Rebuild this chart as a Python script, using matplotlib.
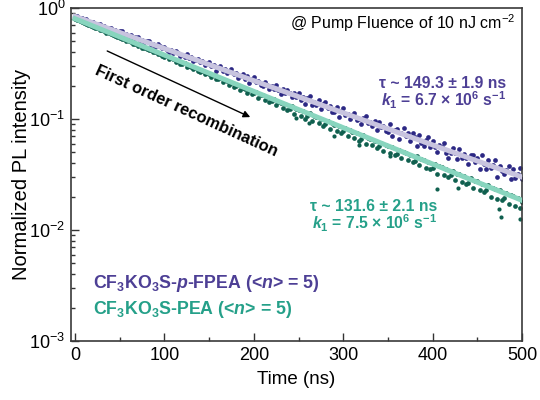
import numpy as np
import matplotlib
matplotlib.use("Agg")
import matplotlib.pyplot as plt
from matplotlib.ticker import LogLocator, FixedLocator, NullFormatter

plt.rcParams['font.family'] = ['Liberation Sans', 'DejaVu Sans']
plt.rcParams['mathtext.fontset'] = 'custom'
plt.rcParams['mathtext.rm'] = 'Liberation Sans'
plt.rcParams['mathtext.it'] = 'Liberation Sans:italic:bold'
plt.rcParams['mathtext.bf'] = 'Liberation Sans:bold'
plt.rcParams['mathtext.default'] = 'regular'

# --- data ---
time_ns = np.arange(0, 502.5, 2.5)

fpea_pl = [
    0.845, 0.839, 0.815, 0.807, 0.786, 0.790, 0.765, 0.750,
    0.749, 0.722, 0.720, 0.715, 0.692, 0.688, 0.660, 0.662,
    0.656, 0.634, 0.630, 0.606, 0.616, 0.621, 0.574, 0.579,
    0.563, 0.573, 0.528, 0.549, 0.550, 0.514, 0.517, 0.490,
    0.502, 0.509, 0.468, 0.474, 0.446, 0.469, 0.455, 0.436,
    0.449, 0.421, 0.398, 0.417, 0.395, 0.408, 0.391, 0.370,
    0.381, 0.362, 0.383, 0.356, 0.363, 0.332, 0.343, 0.348,
    0.325, 0.332, 0.309, 0.317, 0.326, 0.299, 0.306, 0.273,
    0.292, 0.302, 0.269, 0.283, 0.257, 0.271, 0.283, 0.254,
    0.262, 0.234, 0.246, 0.253, 0.231, 0.243, 0.212, 0.228,
    0.237, 0.216, 0.220, 0.201, 0.200, 0.215, 0.202, 0.185,
    0.199, 0.187, 0.201, 0.183, 0.169, 0.185, 0.172, 0.182,
    0.171, 0.159, 0.171, 0.158, 0.172, 0.149, 0.157, 0.136,
    0.156, 0.161, 0.135, 0.142, 0.135, 0.147, 0.123, 0.137,
    0.142, 0.126, 0.131, 0.115, 0.115, 0.128, 0.105, 0.118,
    0.126, 0.109, 0.112, 0.0997, 0.109, 0.114, 0.0980, 0.0996,
    0.0905, 0.102, 0.106, 0.0914, 0.0945, 0.0859, 0.0965, 0.0794,
    0.0939, 0.0840, 0.0873, 0.0784, 0.0771, 0.0896, 0.0710, 0.0803,
    0.0818, 0.0655, 0.0745, 0.0824, 0.0701, 0.0746, 0.0629, 0.0746,
    0.0686, 0.0568, 0.0716, 0.0612, 0.0574, 0.0643, 0.0692, 0.0558,
    0.0637, 0.0559, 0.0504, 0.0586, 0.0557, 0.0606, 0.0491, 0.0445,
    0.0489, 0.0545, 0.0499, 0.0439, 0.0535, 0.0446, 0.0480, 0.0448,
    0.0392, 0.0469, 0.0476, 0.0407, 0.0442, 0.0358, 0.0472, 0.0394,
    0.0358, 0.0428, 0.0362, 0.0385, 0.0424, 0.0301, 0.0378, 0.0337,
    0.0320, 0.0344, 0.0376, 0.0287, 0.0353, 0.0292, 0.0320, 0.0359,
    0.0287,
]

pea_pl = [
    0.795, 0.776, 0.768, 0.745, 0.735, 0.725, 0.700, 0.694,
    0.680, 0.661, 0.660, 0.637, 0.628, 0.621, 0.599, 0.598,
    0.580, 0.576, 0.556, 0.553, 0.541, 0.524, 0.522, 0.500,
    0.500, 0.493, 0.470, 0.478, 0.459, 0.462, 0.440, 0.436,
    0.429, 0.417, 0.421, 0.398, 0.401, 0.383, 0.389, 0.372,
    0.365, 0.367, 0.344, 0.352, 0.345, 0.326, 0.333, 0.316,
    0.311, 0.317, 0.295, 0.302, 0.294, 0.280, 0.288, 0.268,
    0.266, 0.273, 0.252, 0.260, 0.255, 0.237, 0.250, 0.230,
    0.231, 0.236, 0.214, 0.225, 0.220, 0.203, 0.213, 0.196,
    0.197, 0.204, 0.184, 0.192, 0.188, 0.172, 0.183, 0.168,
    0.170, 0.175, 0.155, 0.166, 0.163, 0.148, 0.159, 0.142,
    0.144, 0.150, 0.133, 0.143, 0.140, 0.125, 0.136, 0.121,
    0.124, 0.130, 0.112, 0.122, 0.120, 0.106, 0.118, 0.101,
    0.106, 0.113, 0.0950, 0.106, 0.104, 0.0915, 0.0990, 0.0860,
    0.0905, 0.0960, 0.0810, 0.0912, 0.0890, 0.0780, 0.0870, 0.0752,
    0.0772, 0.0830, 0.0698, 0.0790, 0.0770, 0.0680, 0.0742, 0.0640,
    0.0660, 0.0712, 0.0598, 0.0675, 0.0665, 0.0578, 0.0640, 0.0552,
    0.0568, 0.0612, 0.0520, 0.0585, 0.0575, 0.0495, 0.0555, 0.0470,
    0.0488, 0.0530, 0.0445, 0.0505, 0.0492, 0.0425, 0.0478, 0.0410,
    0.0420, 0.0460, 0.0382, 0.0436, 0.0428, 0.0362, 0.0410, 0.0352,
    0.0362, 0.0395, 0.0322, 0.0375, 0.0368, 0.0310, 0.0352, 0.0298,
    0.0310, 0.0340, 0.0280, 0.0322, 0.0318, 0.0268, 0.0305, 0.0258,
    0.0265, 0.0292, 0.0240, 0.0278, 0.0275, 0.0228, 0.0262, 0.0218,
    0.0228, 0.0252, 0.0200, 0.0240, 0.0236, 0.0192, 0.0228, 0.0185,
    0.0196, 0.0216, 0.0172, 0.0205, 0.0202, 0.0165, 0.0195, 0.0158,
    0.0180,
]

# scattered low points of the PEA trace
pea_extra_t = [247, 262, 290, 318, 352, 405, 428, 474, 477, 498]
pea_extra_pl = [0.102, 0.092, 0.070, 0.058, 0.046, 0.0234, 0.0240, 0.0155, 0.0132, 0.0126]

# single-exponential fits (end points)
fit_t = [0, 500]
fpea_fit = [0.84, 0.030]
pea_fit = [0.80, 0.0185]

# --- colours ---
FPEA_DOT = '#2c2884'
PEA_DOT = '#10604f'
FPEA_FIT = '#c8c4df'
PEA_FIT = '#88d5be'
FPEA_TXT = '#4d3f95'
PEA_TXT = '#25a089'

fig = plt.figure(figsize=(5.4, 4.0), dpi=100)
ax = fig.add_axes([0.1315, 0.1475, 0.8352, 0.8325])

ax.plot(time_ns, fpea_pl, 'o', ms=3.4, mew=0, color=FPEA_DOT, zorder=2)
ax.plot(time_ns, pea_pl, 'o', ms=3.4, mew=0, color=PEA_DOT, zorder=2)
ax.plot(pea_extra_t, pea_extra_pl, 'o', ms=3.0, mew=0, color=PEA_DOT, zorder=2)
ax.plot(fit_t, fpea_fit, '-', lw=3.6, color=FPEA_FIT, zorder=3)
ax.plot(fit_t, pea_fit, '-', lw=3.6, color=PEA_FIT, zorder=3)

ax.set_yscale('log')
ax.set_ylim(1e-3, 1)
ax.set_xlim(-4.5, 500)

ax.xaxis.set_major_locator(FixedLocator([0, 100, 200, 300, 400, 500]))
ax.xaxis.set_minor_locator(FixedLocator([50, 150, 250, 350, 450]))
ax.yaxis.set_major_locator(LogLocator(base=10, numticks=10))
ax.yaxis.set_minor_locator(LogLocator(base=10, subs=np.arange(2, 10), numticks=10))
ax.yaxis.set_minor_formatter(NullFormatter())
ax.set_yticks([1e-3, 1e-2, 1e-1, 1e0])
ax.set_yticklabels(['10$^{-3}$', '10$^{-2}$', '10$^{-1}$', '10$^{0}$'])

ax.tick_params(which='both', direction='in', top=False, right=False,
               labelsize=13, color='#333333', width=1.0)
ax.tick_params(which='major', length=6, pad=4)
ax.tick_params(which='minor', length=3)
for s in ax.spines.values():
    s.set_linewidth(1.2)
    s.set_color('#3a3a3a')

ax.set_xlabel('Time (ns)', fontsize=13.5, labelpad=5)
ax.set_ylabel('Normalized PL intensity', fontsize=14.5, labelpad=-1)

ax.text(0.985, 0.955, '@ Pump Fluence of 10 nJ cm$^{-2}$', transform=ax.transAxes,
        ha='right', va='center', fontsize=11.5)

ax.text(0.965, 0.772, 'τ ~ 149.3 ± 1.9 ns', transform=ax.transAxes,
        ha='right', va='center', fontsize=11.3, fontweight='bold', color=FPEA_TXT)
ax.text(0.965, 0.722, '$\\mathit{k}_1$ = 6.7 × 10$^6$ s$^{-1}$', transform=ax.transAxes,
        ha='right', va='center', fontsize=11.3, fontweight='bold', color=FPEA_TXT)
ax.text(0.812, 0.403, 'τ ~ 131.6 ± 2.1 ns', transform=ax.transAxes,
        ha='right', va='center', fontsize=11.3, fontweight='bold', color=PEA_TXT)
ax.text(0.812, 0.353, '$\\mathit{k}_1$ = 7.5 × 10$^6$ s$^{-1}$', transform=ax.transAxes,
        ha='right', va='center', fontsize=11.3, fontweight='bold', color=PEA_TXT)

ax.text(0.048, 0.172, 'CF$_3$KO$_3$S-$\\mathit{p}$-FPEA (<$\\mathit{n}$> = 5)', transform=ax.transAxes,
        ha='left', va='center', fontsize=12.8, fontweight='bold', color=FPEA_TXT)
ax.text(0.048, 0.095, 'CF$_3$KO$_3$S-PEA (<$\\mathit{n}$> = 5)', transform=ax.transAxes,
        ha='left', va='center', fontsize=12.8, fontweight='bold', color=PEA_TXT)

ax.annotate('', xy=(196, 0.104), xytext=(36, 0.41),
            arrowprops=dict(arrowstyle='-|>', color='black', lw=1.0,
                            mutation_scale=10, shrinkA=0, shrinkB=0))
ax.text(125, 0.117, 'First order recombination', ha='center', va='center',
        rotation=-24.5, rotation_mode='anchor', fontsize=11.8, fontweight='bold')

fig.savefig('out.png', dpi=100)
